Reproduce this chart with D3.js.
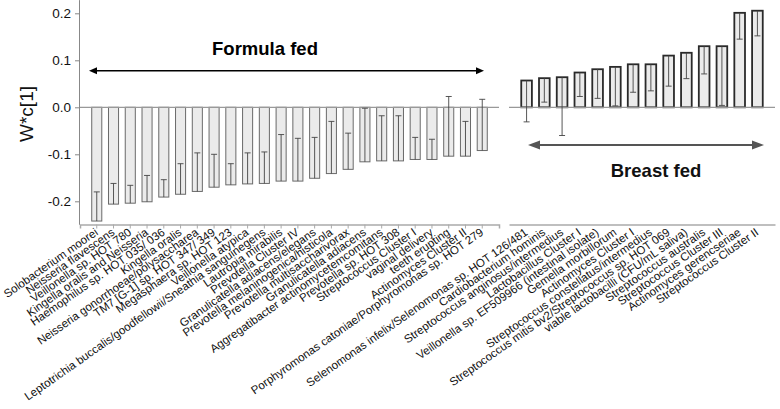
<!DOCTYPE html>
<html>
<head>
<meta charset="utf-8">
<script src="https://cdn.jsdelivr.net/npm/d3@7"></script>
<style>
  body { margin: 0; background: #fff; }
  svg { display: block; font-family: Arial, "Liberation Sans", sans-serif; }
</style>
</head>
<body>
<svg id="chart" width="780" height="409"></svg>
<script>
// formula fed side (negative loadings)
const leftNames = [
  "Solobacterium moorei", "Neisseria flavescens", "Veillonella sp. HOT 780",
  "Kingella oralis and Neisseria", "Haemophilus sp. HOT 035/ 036", "Kingella oralis",
  "Neisseria gonorrhoeae/polysaccharea", "TM7 [G-1] sp. HOT 347/ 349", "Megasphaera sp. HOT 123",
  "Veillonella atypica", "Leptotrichia buccalis/goodfellowii/Sneathia sanguinegens", "Lautropia mirabilis",
  "Prevotella Cluster IV", "Granulicatella adiacens/elegans", "Prevotella melaninogenica/histicola",
  "Prevotella multisaccharivorax", "Granulicatella adiacens", "Aggregatibacter actinomycetemcomitans",
  "Prevotella sp. HOT 308", "Streptococcus Cluster I", "vaginal delivery",
  "teeth erupting", "Actinomyces Cluster II", "Porphyromonas catoniae/Porphyromonas sp. HOT 279"
];
const leftValues = [
  -0.242, -0.206, -0.204, -0.201, -0.191, -0.185, -0.179, -0.170, -0.165, -0.163, -0.162, -0.157,
  -0.157, -0.151, -0.141, -0.132, -0.116, -0.114, -0.114, -0.111, -0.111, -0.104, -0.104, -0.092
];
// where each error bar ends (toward zero)
const leftErrEnd = [
  -0.180, -0.162, -0.166, -0.145, -0.154, -0.120, -0.097, -0.100, -0.120, -0.097, -0.095, -0.058,
  -0.066, -0.064, -0.030, -0.055, -0.002, -0.018, -0.018, -0.064, -0.068, 0.023, -0.030, 0.017
];

// breast fed side (positive loadings)
const rightNames = [
  "Selenomonas infelix/Selenomonas sp. HOT 126/481", "Cardiobacterium hominis",
  "Streptococcus anginosus/intermedius", "Lactobacillus Cluster I",
  "Veillonella sp.  EF509966 (intestinal isolate)", "Gemella morbillorum",
  "Actinomyces Cluster I", "Streptococcus constellatus/intermedius",
  "Streptococcus mitis bv2/Streptococcus sp. HOT 069", "viable lactobacilli (CFU/mL saliva)",
  "Streptococcus australis", "Streptococcus Cluster III",
  "Actinomyces gerencseriae", "Streptococcus Cluster II"
];
const rightValues = [
  0.057, 0.062, 0.064, 0.074, 0.081, 0.086, 0.0915, 0.0915, 0.110, 0.116, 0.130, 0.130, 0.201, 0.2055
];
const rightErrEnd = [
  -0.031, 0.011, -0.060, 0.023, 0.019, 0.003, 0.032, 0.035, 0.045, 0.061, 0.071, 0.004, 0.145, 0.152
];

const yTicks = [-0.2, -0.1, 0.0, 0.1, 0.2];

const svg = d3.select("#chart");

var y = d3.scaleLinear().domain([-0.25, 0.22]).range([224.8, 3.9]);

var xLeft = d3.scaleBand().domain(leftNames).range([80, 499]).paddingInner(0.4).paddingOuter(0.7);
var xRight = d3.scaleBand().domain(rightNames).range([509, 775]).paddingInner(0.4).paddingOuter(0.69);

// y axis
var yAxis = svg.append("g")
  .attr("transform", "translate(80,0)")
  .call(d3.axisLeft(y).tickValues(yTicks).tickFormat(d3.format(".1f")).tickSize(5).tickPadding(4));
yAxis.select(".domain").attr("stroke", "#888").attr("d", "M-0.5," + y(0.228) + "V" + y(-0.25));
yAxis.selectAll(".tick line").attr("stroke", "#888");
yAxis.selectAll(".tick text").attr("font-size", 13.5).attr("fill", "#111")
  .text(function (d) { return d3.format(".1f")(d).replace("−", "-"); });

svg.append("text")
  .attr("transform", "translate(33,114) rotate(-90)")
  .attr("text-anchor", "middle")
  .attr("font-size", 19)
  .attr("fill", "#111")
  .text("W*c[1]");

function drawPanel(x, names, values, errEnd, barStroke, barStrokeW, ticks) {
  var g = svg.append("g");
  var r = x.range();

  // bottom axis
  var ax = g.append("g")
    .attr("transform", "translate(0,224.5)")
    .call(d3.axisBottom(x).tickSize(ticks ? 4 : 0).tickFormat(""));
  ax.select(".domain").attr("stroke", "#aaa").attr("stroke-width", 1.5);
  ax.selectAll(".tick line").attr("stroke", "#aaa");

  // bars
  g.selectAll("rect.bar")
    .data(values)
    .join("rect")
    .attr("class", "bar")
    .attr("x", function (d, i) { return x(names[i]); })
    .attr("width", x.bandwidth())
    .attr("y", function (d) { return Math.min(y(d), y(0)); })
    .attr("height", function (d) { return Math.abs(y(d) - y(0)); })
    .attr("fill", "#ebebeb")
    .attr("stroke", barStroke)
    .attr("stroke-width", barStrokeW);

  // zero line
  g.append("line")
    .attr("x1", r[0]).attr("x2", r[1])
    .attr("y1", y(0)).attr("y2", y(0))
    .attr("stroke", "#999").attr("stroke-width", 1.2);

  // error bars, one sided toward zero
  var eb = g.selectAll("g.err")
    .data(errEnd)
    .join("g")
    .attr("class", "err")
    .attr("transform", function (d, i) { return "translate(" + (x(names[i]) + x.bandwidth() / 2) + ",0)"; });
  eb.append("line")
    .attr("y1", function (d, i) { return y(values[i]); })
    .attr("y2", function (d) { return y(d); })
    .attr("stroke", "#444").attr("stroke-width", 0.9);
  eb.append("line")
    .attr("x1", -3).attr("x2", 3)
    .attr("y1", function (d) { return y(d); })
    .attr("y2", function (d) { return y(d); })
    .attr("stroke", "#444").attr("stroke-width", 0.9);

  // category labels
  g.selectAll("text.lab")
    .data(names)
    .join("text")
    .attr("class", "lab")
    .attr("transform", function (d) {
      return "translate(" + (x(d) + x.bandwidth() / 2 + 2) + ",234) rotate(-35)";
    })
    .attr("text-anchor", "end")
    .attr("font-size", 11.5)
    .attr("fill", "#111")
    .text(function (d) { return d; });
}

drawPanel(xLeft, leftNames, leftValues, leftErrEnd, "#6a6a6a", 1, true);
drawPanel(xRight, rightNames, rightValues, rightErrEnd, "#2a2a2a", 1.8, false);

// annotation arrows
function arrow(x1, x2, yy, color, sw, hl, hw) {
  svg.append("line")
    .attr("x1", x1 + hl - 1).attr("x2", x2 - hl + 1)
    .attr("y1", yy).attr("y2", yy)
    .attr("stroke", color).attr("stroke-width", sw);
  svg.append("path")
    .attr("d", "M" + x1 + "," + yy + "L" + (x1 + hl) + "," + (yy - hw) + "L" + (x1 + hl) + "," + (yy + hw) + "Z")
    .attr("fill", color);
  svg.append("path")
    .attr("d", "M" + x2 + "," + yy + "L" + (x2 - hl) + "," + (yy - hw) + "L" + (x2 - hl) + "," + (yy + hw) + "Z")
    .attr("fill", color);
}
arrow(89, 484, 70.7, "#000", 1.5, 8, 3.5);
arrow(528, 764, 145, "#555", 2, 12, 4.5);

svg.append("text")
  .attr("x", 265).attr("y", 55)
  .attr("text-anchor", "middle")
  .attr("font-size", 18.5).attr("font-weight", "bold")
  .attr("fill", "#000")
  .text("Formula fed");

svg.append("text")
  .attr("x", 656).attr("y", 176.5)
  .attr("text-anchor", "middle")
  .attr("font-size", 18.5).attr("font-weight", "bold")
  .attr("fill", "#111")
  .text("Breast fed");
</script>
</body>
</html>
